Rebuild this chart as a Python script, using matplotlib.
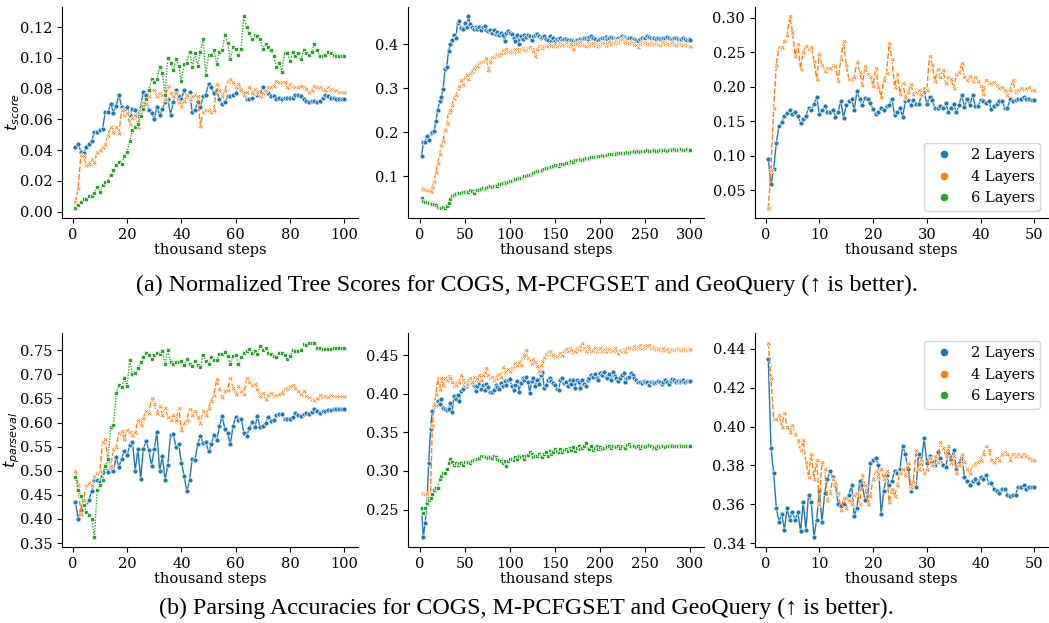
import numpy as np
import matplotlib
matplotlib.use('Agg')
import matplotlib.pyplot as plt
from matplotlib.lines import Line2D

# ---------------- data ----------------
layers = ["2 Layers", "4 Layers", "6 Layers"]

steps_cogs = np.arange(1, 101)            # thousand steps
steps_pcfg = np.arange(2, 301, 2)
steps_geo = np.arange(0.5, 50.01, 0.5)

# (a) normalized tree scores
score_cogs_2 = [
    0.042, 0.044, 0.039, 0.038, 0.042, 0.044, 0.046, 0.052, 0.052, 0.053,
    0.054, 0.065, 0.065, 0.070, 0.064, 0.069, 0.076, 0.068, 0.067, 0.068,
    0.063, 0.067, 0.066, 0.062, 0.068, 0.078, 0.076, 0.066, 0.064, 0.060,
    0.068, 0.063, 0.067, 0.071, 0.073, 0.063, 0.071, 0.079, 0.075, 0.073,
    0.079, 0.075, 0.078, 0.065, 0.066, 0.071, 0.068, 0.075, 0.076, 0.083,
    0.081, 0.077, 0.079, 0.073, 0.070, 0.071, 0.075, 0.075, 0.076, 0.077,
    0.081, 0.079, 0.077, 0.073, 0.073, 0.074, 0.077, 0.076, 0.078, 0.081,
    0.078, 0.077, 0.075, 0.075, 0.073, 0.074, 0.073, 0.074, 0.074, 0.074,
    0.074, 0.076, 0.076, 0.075, 0.073, 0.072, 0.071, 0.072, 0.072, 0.071,
    0.072, 0.074, 0.076, 0.075, 0.074, 0.074, 0.073, 0.073, 0.073, 0.073]
score_cogs_4 = [
    0.006, 0.015, 0.037, 0.036, 0.030, 0.031, 0.034, 0.032, 0.039, 0.040,
    0.042, 0.044, 0.050, 0.055, 0.052, 0.055, 0.051, 0.066, 0.063, 0.064,
    0.057, 0.061, 0.063, 0.055, 0.066, 0.071, 0.070, 0.075, 0.079, 0.079,
    0.075, 0.077, 0.076, 0.073, 0.082, 0.077, 0.075, 0.077, 0.071, 0.069,
    0.072, 0.076, 0.073, 0.075, 0.076, 0.075, 0.056, 0.065, 0.066, 0.066,
    0.065, 0.066, 0.083, 0.079, 0.075, 0.079, 0.085, 0.086, 0.084, 0.081,
    0.083, 0.079, 0.076, 0.078, 0.081, 0.077, 0.080, 0.078, 0.075, 0.077,
    0.079, 0.081, 0.081, 0.082, 0.085, 0.084, 0.084, 0.084, 0.081, 0.083,
    0.082, 0.081, 0.081, 0.082, 0.081, 0.080, 0.078, 0.079, 0.082, 0.081,
    0.081, 0.080, 0.079, 0.081, 0.080, 0.079, 0.079, 0.078, 0.078, 0.078]
score_cogs_6 = [
    0.002, 0.004, 0.006, 0.008, 0.008, 0.010, 0.010, 0.012, 0.016, 0.013,
    0.017, 0.019, 0.020, 0.024, 0.027, 0.030, 0.032, 0.031, 0.036, 0.039,
    0.046, 0.053, 0.055, 0.057, 0.062, 0.067, 0.073, 0.079, 0.086, 0.084,
    0.086, 0.094, 0.090, 0.076, 0.100, 0.097, 0.092, 0.099, 0.095, 0.085,
    0.096, 0.097, 0.104, 0.094, 0.103, 0.095, 0.104, 0.112, 0.089, 0.102,
    0.102, 0.105, 0.096, 0.104, 0.105, 0.115, 0.110, 0.099, 0.107, 0.106,
    0.102, 0.106, 0.127, 0.120, 0.116, 0.112, 0.115, 0.114, 0.112, 0.106,
    0.109, 0.107, 0.105, 0.101, 0.094, 0.097, 0.091, 0.103, 0.103, 0.098,
    0.104, 0.101, 0.103, 0.099, 0.105, 0.103, 0.102, 0.104, 0.109, 0.105,
    0.101, 0.101, 0.102, 0.104, 0.103, 0.102, 0.101, 0.101, 0.101, 0.101]

score_pcfg_2 = [
    0.145, 0.177, 0.178, 0.192, 0.183, 0.198, 0.200, 0.203, 0.225, 0.250,
    0.270, 0.280, 0.298, 0.343, 0.349, 0.385, 0.400, 0.410, 0.420, 0.413,
    0.449, 0.453, 0.436, 0.434, 0.447, 0.440, 0.463, 0.445, 0.440, 0.435,
    0.438, 0.434, 0.440, 0.432, 0.438, 0.441, 0.433, 0.430, 0.432, 0.425,
    0.432, 0.424, 0.428, 0.422, 0.426, 0.421, 0.408, 0.425, 0.429, 0.426,
    0.424, 0.415, 0.408, 0.420, 0.401, 0.418, 0.412, 0.420, 0.417, 0.421,
    0.418, 0.410, 0.419, 0.422, 0.424, 0.418, 0.414, 0.416, 0.418, 0.412,
    0.410, 0.418, 0.408, 0.413, 0.407, 0.412, 0.410, 0.413, 0.409, 0.412,
    0.411, 0.409, 0.406, 0.410, 0.408, 0.406, 0.409, 0.408, 0.411, 0.409,
    0.413, 0.414, 0.412, 0.416, 0.418, 0.414, 0.411, 0.405, 0.410, 0.411,
    0.413, 0.415, 0.416, 0.412, 0.414, 0.417, 0.413, 0.411, 0.410, 0.413,
    0.415, 0.418, 0.416, 0.414, 0.412, 0.415, 0.413, 0.410, 0.412, 0.409,
    0.407, 0.411, 0.413, 0.412, 0.415, 0.419, 0.416, 0.414, 0.412, 0.413,
    0.411, 0.414, 0.412, 0.410, 0.413, 0.415, 0.416, 0.414, 0.412, 0.410,
    0.413, 0.415, 0.412, 0.410, 0.411, 0.413, 0.412, 0.410, 0.411, 0.410]
score_pcfg_4 = [
    0.074, 0.072, 0.071, 0.070, 0.068, 0.067, 0.075, 0.090, 0.110, 0.130,
    0.150, 0.170, 0.180, 0.205, 0.220, 0.245, 0.250, 0.262, 0.278, 0.285,
    0.300, 0.305, 0.318, 0.310, 0.325, 0.330, 0.320, 0.335, 0.340, 0.345,
    0.352, 0.350, 0.358, 0.360, 0.362, 0.365, 0.368, 0.342, 0.360, 0.370,
    0.372, 0.375, 0.378, 0.376, 0.380, 0.386, 0.382, 0.390, 0.385, 0.383,
    0.387, 0.385, 0.390, 0.388, 0.384, 0.390, 0.392, 0.389, 0.386, 0.391,
    0.393, 0.388, 0.385, 0.373, 0.388, 0.395, 0.397, 0.392, 0.396, 0.399,
    0.395, 0.400, 0.398, 0.396, 0.401, 0.397, 0.399, 0.402, 0.400, 0.398,
    0.403, 0.399, 0.397, 0.401, 0.388, 0.400, 0.402, 0.398, 0.404, 0.401,
    0.399, 0.396, 0.402, 0.398, 0.400, 0.403, 0.399, 0.401, 0.397, 0.400,
    0.404, 0.402, 0.399, 0.403, 0.405, 0.401, 0.406, 0.403, 0.408, 0.405,
    0.410, 0.412, 0.408, 0.406, 0.404, 0.402, 0.405, 0.403, 0.399, 0.398,
    0.393, 0.400, 0.404, 0.402, 0.405, 0.403, 0.401, 0.404, 0.402, 0.400,
    0.403, 0.401, 0.399, 0.402, 0.404, 0.401, 0.403, 0.400, 0.402, 0.404,
    0.401, 0.399, 0.402, 0.400, 0.401, 0.399, 0.400, 0.398, 0.397, 0.396]
score_pcfg_6 = [
    0.050, 0.043, 0.041, 0.042, 0.040, 0.039, 0.038, 0.036, 0.034, 0.031,
    0.029, 0.028, 0.030, 0.027, 0.033, 0.040, 0.048, 0.055, 0.058, 0.060,
    0.061, 0.063, 0.062, 0.064, 0.065, 0.066, 0.065, 0.068, 0.067, 0.063,
    0.068, 0.070, 0.069, 0.071, 0.073, 0.072, 0.074, 0.075, 0.077, 0.076,
    0.078, 0.080, 0.079, 0.082, 0.083, 0.084, 0.086, 0.085, 0.088, 0.089,
    0.090, 0.092, 0.093, 0.094, 0.096, 0.097, 0.098, 0.100, 0.101, 0.103,
    0.104, 0.106, 0.108, 0.110, 0.112, 0.111, 0.113, 0.115, 0.116, 0.118,
    0.119, 0.120, 0.122, 0.123, 0.125, 0.126, 0.124, 0.128, 0.127, 0.129,
    0.130, 0.131, 0.133, 0.134, 0.133, 0.137, 0.136, 0.138, 0.139, 0.138,
    0.140, 0.141, 0.140, 0.142, 0.143, 0.144, 0.143, 0.145, 0.146, 0.147,
    0.148, 0.147, 0.149, 0.148, 0.150, 0.151, 0.150, 0.152, 0.151, 0.152,
    0.153, 0.152, 0.154, 0.153, 0.155, 0.154, 0.156, 0.155, 0.157, 0.156,
    0.158, 0.155, 0.157, 0.158, 0.157, 0.159, 0.158, 0.157, 0.158, 0.159,
    0.158, 0.157, 0.159, 0.158, 0.160, 0.159, 0.158, 0.160, 0.161, 0.160,
    0.161, 0.159, 0.160, 0.162, 0.161, 0.160, 0.159, 0.161, 0.160, 0.159]

score_geo_2 = [
    0.096, 0.059, 0.081, 0.119, 0.144, 0.149, 0.158, 0.162, 0.166, 0.161,
    0.163, 0.158, 0.148, 0.154, 0.158, 0.170, 0.167, 0.175, 0.186, 0.161,
    0.167, 0.172, 0.164, 0.163, 0.167, 0.157, 0.164, 0.180, 0.155, 0.174,
    0.179, 0.183, 0.167, 0.194, 0.182, 0.174, 0.184, 0.182, 0.176, 0.168,
    0.161, 0.163, 0.170, 0.167, 0.172, 0.174, 0.183, 0.159, 0.163, 0.169,
    0.157, 0.179, 0.181, 0.174, 0.181, 0.175, 0.175, 0.188, 0.193, 0.175,
    0.186, 0.181, 0.170, 0.170, 0.172, 0.170, 0.176, 0.164, 0.169, 0.175,
    0.163, 0.174, 0.188, 0.171, 0.182, 0.174, 0.188, 0.173, 0.172, 0.181,
    0.180, 0.177, 0.180, 0.168, 0.172, 0.175, 0.180, 0.179, 0.170, 0.169,
    0.182, 0.180, 0.181, 0.182, 0.183, 0.185, 0.183, 0.182, 0.181, 0.181]
score_geo_4 = [
    0.024, 0.080, 0.170, 0.232, 0.258, 0.258, 0.266, 0.275, 0.302, 0.280,
    0.245, 0.262, 0.226, 0.250, 0.259, 0.255, 0.258, 0.238, 0.212, 0.247,
    0.232, 0.223, 0.228, 0.227, 0.232, 0.230, 0.209, 0.240, 0.267, 0.232,
    0.212, 0.212, 0.215, 0.236, 0.222, 0.203, 0.230, 0.218, 0.215, 0.202,
    0.228, 0.200, 0.186, 0.210, 0.220, 0.263, 0.240, 0.200, 0.218, 0.190,
    0.205, 0.186, 0.192, 0.204, 0.190, 0.192, 0.195, 0.190, 0.198, 0.196,
    0.245, 0.232, 0.208, 0.226, 0.214, 0.225, 0.205, 0.215, 0.212, 0.198,
    0.218, 0.222, 0.234, 0.214, 0.210, 0.216, 0.208, 0.215, 0.208, 0.202,
    0.190, 0.210, 0.206, 0.205, 0.207, 0.203, 0.198, 0.200, 0.196, 0.188,
    0.196, 0.210, 0.192, 0.196, 0.198, 0.197, 0.198, 0.200, 0.195, 0.195]

# (b) parsing accuracies
acc_cogs_2 = [
    0.436, 0.400, 0.419, 0.440, 0.436, 0.440, 0.459, 0.481, 0.480, 0.476,
    0.498, 0.510, 0.497, 0.505, 0.500, 0.528, 0.508, 0.525, 0.542, 0.533,
    0.553, 0.560, 0.500, 0.545, 0.483, 0.545, 0.562, 0.543, 0.510, 0.545,
    0.580, 0.500, 0.530, 0.480, 0.512, 0.575, 0.577, 0.550, 0.555, 0.517,
    0.490, 0.457, 0.480, 0.525, 0.523, 0.555, 0.573, 0.557, 0.560, 0.540,
    0.555, 0.575, 0.563, 0.592, 0.613, 0.587, 0.578, 0.555, 0.592, 0.612,
    0.605, 0.608, 0.578, 0.572, 0.588, 0.602, 0.590, 0.613, 0.590, 0.592,
    0.600, 0.612, 0.603, 0.605, 0.615, 0.617, 0.617, 0.608, 0.607, 0.608,
    0.612, 0.620, 0.615, 0.613, 0.618, 0.620, 0.617, 0.622, 0.628, 0.625,
    0.620, 0.625, 0.625, 0.627, 0.627, 0.628, 0.628, 0.628, 0.628, 0.628]
acc_cogs_4 = [
    0.500, 0.470, 0.410, 0.440, 0.470, 0.475, 0.470, 0.490, 0.495, 0.500,
    0.560, 0.565, 0.520, 0.510, 0.545, 0.550, 0.578, 0.582, 0.565, 0.585,
    0.580, 0.575, 0.580, 0.605, 0.595, 0.610, 0.625, 0.620, 0.650, 0.638,
    0.620, 0.635, 0.615, 0.630, 0.612, 0.605, 0.615, 0.605, 0.630, 0.585,
    0.600, 0.605, 0.628, 0.615, 0.625, 0.612, 0.600, 0.625, 0.615, 0.630,
    0.645, 0.658, 0.690, 0.670, 0.652, 0.665, 0.668, 0.692, 0.672, 0.660,
    0.675, 0.665, 0.660, 0.692, 0.685, 0.678, 0.680, 0.670, 0.655, 0.662,
    0.648, 0.658, 0.662, 0.655, 0.658, 0.660, 0.662, 0.670, 0.672, 0.675,
    0.678, 0.672, 0.665, 0.660, 0.665, 0.655, 0.652, 0.648, 0.646, 0.650,
    0.657, 0.652, 0.655, 0.653, 0.657, 0.656, 0.655, 0.655, 0.655, 0.655]
acc_cogs_6 = [
    0.487, 0.460, 0.448, 0.430, 0.415, 0.408, 0.400, 0.362, 0.460, 0.470,
    0.480, 0.510, 0.525, 0.590, 0.595, 0.662, 0.678, 0.673, 0.692, 0.675,
    0.730, 0.700, 0.702, 0.713, 0.725, 0.735, 0.745, 0.740, 0.732, 0.740,
    0.745, 0.742, 0.748, 0.722, 0.750, 0.725, 0.722, 0.725, 0.725, 0.728,
    0.720, 0.732, 0.722, 0.718, 0.728, 0.720, 0.716, 0.740, 0.728, 0.722,
    0.735, 0.730, 0.730, 0.742, 0.743, 0.746, 0.738, 0.722, 0.738, 0.740,
    0.722, 0.735, 0.745, 0.748, 0.752, 0.745, 0.748, 0.742, 0.758, 0.750,
    0.755, 0.745, 0.742, 0.738, 0.735, 0.745, 0.745, 0.740, 0.732, 0.738,
    0.750, 0.748, 0.748, 0.750, 0.762, 0.760, 0.765, 0.765, 0.765, 0.755,
    0.755, 0.752, 0.752, 0.752, 0.753, 0.755, 0.755, 0.755, 0.755, 0.755]

acc_pcfg_2 = [
    0.251, 0.214, 0.233, 0.257, 0.311, 0.354, 0.378, 0.384, 0.385, 0.391,
    0.387, 0.393, 0.382, 0.380, 0.379, 0.381, 0.388, 0.377, 0.397, 0.394,
    0.398, 0.391, 0.404, 0.406, 0.411, 0.410, 0.413, 0.418, 0.416, 0.412,
    0.404, 0.410, 0.414, 0.407, 0.412, 0.405, 0.413, 0.409, 0.403, 0.402,
    0.405, 0.411, 0.409, 0.406, 0.414, 0.410, 0.417, 0.412, 0.418, 0.419,
    0.410, 0.405, 0.412, 0.417, 0.403, 0.414, 0.420, 0.418, 0.422, 0.416,
    0.401, 0.417, 0.420, 0.410, 0.418, 0.413, 0.425, 0.428, 0.408, 0.412,
    0.418, 0.420, 0.417, 0.414, 0.412, 0.406, 0.405, 0.418, 0.420, 0.414,
    0.416, 0.410, 0.418, 0.413, 0.418, 0.408, 0.418, 0.415, 0.408, 0.418,
    0.413, 0.410, 0.418, 0.420, 0.425, 0.422, 0.426, 0.420, 0.418, 0.427,
    0.425, 0.428, 0.422, 0.420, 0.426, 0.418, 0.428, 0.423, 0.420, 0.417,
    0.421, 0.425, 0.427, 0.416, 0.420, 0.422, 0.427, 0.425, 0.420, 0.418,
    0.415, 0.416, 0.414, 0.417, 0.416, 0.415, 0.412, 0.416, 0.415, 0.414,
    0.416, 0.417, 0.415, 0.413, 0.416, 0.418, 0.415, 0.413, 0.417, 0.419,
    0.418, 0.416, 0.417, 0.415, 0.417, 0.418, 0.416, 0.417, 0.417, 0.417]
acc_pcfg_4 = [
    0.271, 0.271, 0.270, 0.272, 0.262, 0.270, 0.360, 0.385, 0.400, 0.420,
    0.407, 0.420, 0.412, 0.420, 0.418, 0.423, 0.420, 0.416, 0.410, 0.412,
    0.418, 0.415, 0.425, 0.418, 0.416, 0.413, 0.418, 0.420, 0.415, 0.422,
    0.418, 0.420, 0.424, 0.418, 0.424, 0.428, 0.434, 0.424, 0.420, 0.422,
    0.418, 0.420, 0.424, 0.426, 0.422, 0.435, 0.428, 0.430, 0.432, 0.430,
    0.434, 0.436, 0.440, 0.438, 0.442, 0.438, 0.448, 0.450, 0.457, 0.446,
    0.444, 0.440, 0.445, 0.442, 0.436, 0.430, 0.438, 0.443, 0.448, 0.452,
    0.454, 0.455, 0.452, 0.450, 0.448, 0.449, 0.451, 0.453, 0.450, 0.456,
    0.458, 0.456, 0.459, 0.457, 0.454, 0.456, 0.460, 0.458, 0.462, 0.466,
    0.460, 0.456, 0.462, 0.458, 0.455, 0.457, 0.460, 0.456, 0.458, 0.460,
    0.455, 0.458, 0.456, 0.460, 0.458, 0.455, 0.457, 0.459, 0.456, 0.453,
    0.457, 0.456, 0.458, 0.456, 0.459, 0.461, 0.459, 0.460, 0.462, 0.460,
    0.461, 0.463, 0.460, 0.461, 0.462, 0.464, 0.463, 0.460, 0.461, 0.459,
    0.458, 0.460, 0.458, 0.457, 0.459, 0.457, 0.458, 0.456, 0.458, 0.458,
    0.457, 0.458, 0.459, 0.458, 0.457, 0.458, 0.458, 0.457, 0.458, 0.458]
acc_pcfg_6 = [
    0.252, 0.245, 0.252, 0.258, 0.262, 0.265, 0.270, 0.275, 0.278, 0.278,
    0.290, 0.293, 0.297, 0.298, 0.303, 0.310, 0.315, 0.312, 0.308, 0.310,
    0.308, 0.310, 0.311, 0.308, 0.312, 0.310, 0.312, 0.310, 0.313, 0.314,
    0.315, 0.316, 0.317, 0.319, 0.320, 0.319, 0.318, 0.317, 0.318, 0.317,
    0.319, 0.318, 0.316, 0.314, 0.313, 0.311, 0.313, 0.307, 0.313, 0.315,
    0.316, 0.314, 0.318, 0.316, 0.319, 0.318, 0.320, 0.316, 0.319, 0.321,
    0.324, 0.322, 0.318, 0.320, 0.319, 0.322, 0.320, 0.318, 0.322, 0.324,
    0.320, 0.326, 0.322, 0.325, 0.328, 0.326, 0.324, 0.328, 0.325, 0.327,
    0.329, 0.326, 0.330, 0.327, 0.331, 0.326, 0.330, 0.332, 0.328, 0.330,
    0.333, 0.336, 0.330, 0.328, 0.332, 0.327, 0.330, 0.333, 0.329, 0.331,
    0.329, 0.330, 0.332, 0.331, 0.333, 0.330, 0.332, 0.333, 0.331, 0.332,
    0.330, 0.333, 0.331, 0.330, 0.334, 0.335, 0.332, 0.334, 0.333, 0.331,
    0.332, 0.330, 0.333, 0.332, 0.331, 0.333, 0.334, 0.332, 0.330, 0.331,
    0.330, 0.332, 0.331, 0.333, 0.332, 0.331, 0.333, 0.332, 0.334, 0.333,
    0.332, 0.333, 0.332, 0.334, 0.333, 0.332, 0.333, 0.333, 0.332, 0.333]

acc_geo_2 = [
    0.435, 0.389, 0.376, 0.358, 0.351, 0.355, 0.347, 0.358, 0.352, 0.356,
    0.352, 0.356, 0.346, 0.361, 0.347, 0.365, 0.361, 0.343, 0.352, 0.367,
    0.351, 0.366, 0.373, 0.377, 0.374, 0.370, 0.360, 0.359, 0.360, 0.363,
    0.365, 0.370, 0.354, 0.358, 0.372, 0.370, 0.362, 0.364, 0.381, 0.383,
    0.384, 0.380, 0.355, 0.367, 0.375, 0.370, 0.372, 0.377, 0.376, 0.378,
    0.390, 0.386, 0.378, 0.367, 0.369, 0.369, 0.386, 0.382, 0.394, 0.381,
    0.385, 0.382, 0.380, 0.387, 0.384, 0.380, 0.379, 0.386, 0.383, 0.388,
    0.378, 0.381, 0.385, 0.374, 0.372, 0.370, 0.372, 0.373, 0.371, 0.374,
    0.373, 0.375, 0.371, 0.371, 0.368, 0.367, 0.366, 0.368, 0.368, 0.365,
    0.364, 0.365, 0.365, 0.369, 0.369, 0.370, 0.368, 0.369, 0.369, 0.369]
acc_geo_4 = [
    0.443, 0.425, 0.404, 0.404, 0.406, 0.400, 0.407, 0.400, 0.397, 0.401,
    0.396, 0.393, 0.388, 0.393, 0.382, 0.374, 0.386, 0.373, 0.383, 0.360,
    0.382, 0.378, 0.362, 0.366, 0.373, 0.371, 0.366, 0.357, 0.363, 0.358,
    0.362, 0.360, 0.365, 0.366, 0.360, 0.375, 0.370, 0.360, 0.364, 0.373,
    0.377, 0.374, 0.378, 0.373, 0.377, 0.361, 0.368, 0.364, 0.370, 0.376,
    0.378, 0.375, 0.381, 0.369, 0.372, 0.388, 0.378, 0.383, 0.376, 0.378,
    0.384, 0.380, 0.385, 0.382, 0.392, 0.389, 0.385, 0.390, 0.381, 0.385,
    0.376, 0.380, 0.386, 0.382, 0.378, 0.376, 0.380, 0.381, 0.382, 0.383,
    0.386, 0.390, 0.388, 0.383, 0.382, 0.384, 0.383, 0.386, 0.387, 0.386,
    0.383, 0.386, 0.385, 0.386, 0.385, 0.386, 0.385, 0.384, 0.383, 0.383]

# ---------------- style ----------------
plt.rcParams.update({
    "font.family": "DejaVu Serif",
    "font.size": 10.5,
    "mathtext.fontset": "dejavusans",
})

colors = ["#1f77b4", "#ff7f0e", "#2ca02c"]
markers = ["o", "X", (4, 0, 45)]
dashes = [(), (4, 1.5), (1, 1)]


def plot_panel(ax, x, series, xticks):
    for i, y in enumerate(series):
        if y is None:
            continue
        line, = ax.plot(x, y, color=colors[i], marker=markers[i], markersize=3.6,
                        markeredgecolor="white", markeredgewidth=0.5, linewidth=1.0)
        if dashes[i]:
            line.set_dashes(dashes[i])
    ax.spines["right"].set_visible(False)
    ax.spines["top"].set_visible(False)
    ax.set_xticks(xticks)
    ax.set_xlabel("thousand steps", labelpad=1)
    ax.tick_params(labelsize=10.5)


def add_legend(ax, loc):
    handles = [Line2D([], [], linestyle="none", marker="o", markersize=6,
                      color=c, markeredgecolor="white", markeredgewidth=0.5) for c in colors]
    ax.legend(handles, layers, loc=loc, fontsize=10.5, handlelength=2.0)


fig = plt.figure(figsize=(10.49, 6.23), dpi=100)

lefts = [0.0591, 0.389, 0.7197]
widths = [0.282, 0.282, 0.279]
top_row = [fig.add_axes([lefts[i], 0.650, widths[i], 0.339]) for i in range(3)]
bot_row = [fig.add_axes([lefts[i], 0.122, widths[i], 0.343]) for i in range(3)]

ticks_cogs = [0, 20, 40, 60, 80, 100]
ticks_pcfg = [0, 50, 100, 150, 200, 250, 300]
ticks_geo = [0, 10, 20, 30, 40, 50]

plot_panel(top_row[0], steps_cogs, [score_cogs_2, score_cogs_4, score_cogs_6], ticks_cogs)
plot_panel(top_row[1], steps_pcfg, [score_pcfg_2, score_pcfg_4, score_pcfg_6], ticks_pcfg)
plot_panel(top_row[2], steps_geo, [score_geo_2, score_geo_4, None], ticks_geo)
plot_panel(bot_row[0], steps_cogs, [acc_cogs_2, acc_cogs_4, acc_cogs_6], ticks_cogs)
plot_panel(bot_row[1], steps_pcfg, [acc_pcfg_2, acc_pcfg_4, acc_pcfg_6], ticks_pcfg)
plot_panel(bot_row[2], steps_geo, [acc_geo_2, acc_geo_4, None], ticks_geo)

top_row[0].set_yticks([0.00, 0.02, 0.04, 0.06, 0.08, 0.10, 0.12])
top_row[1].set_yticks([0.1, 0.2, 0.3, 0.4])
top_row[2].set_yticks([0.05, 0.10, 0.15, 0.20, 0.25, 0.30])
bot_row[0].set_yticks([0.35, 0.40, 0.45, 0.50, 0.55, 0.60, 0.65, 0.70, 0.75])
bot_row[1].set_yticks([0.25, 0.30, 0.35, 0.40, 0.45])
bot_row[2].set_yticks([0.34, 0.36, 0.38, 0.40, 0.42, 0.44])

top_row[0].set_ylabel(r"$t_{score}$", fontsize=11.5)
top_row[0].yaxis.set_label_coords(-0.135, 0.5)
bot_row[0].set_ylabel(r"$t_{parseval}$", fontsize=11.5)
bot_row[0].yaxis.set_label_coords(-0.135, 0.5)

add_legend(top_row[2], "lower right")
add_legend(bot_row[2], "upper right")

fig.text(0.502, 0.542, "(a) Normalized Tree Scores for COGS, M-PCFGSET and GeoQuery (\u2191 is better).",
         ha="center", va="center", family=["Liberation Serif", "DejaVu Serif"], fontsize=17.3)
fig.text(0.502, 0.024, "(b) Parsing Accuracies for COGS, M-PCFGSET and GeoQuery (\u2191 is better).",
         ha="center", va="center", family=["Liberation Serif", "DejaVu Serif"], fontsize=17.3)

fig.savefig("out.png", dpi=100)
